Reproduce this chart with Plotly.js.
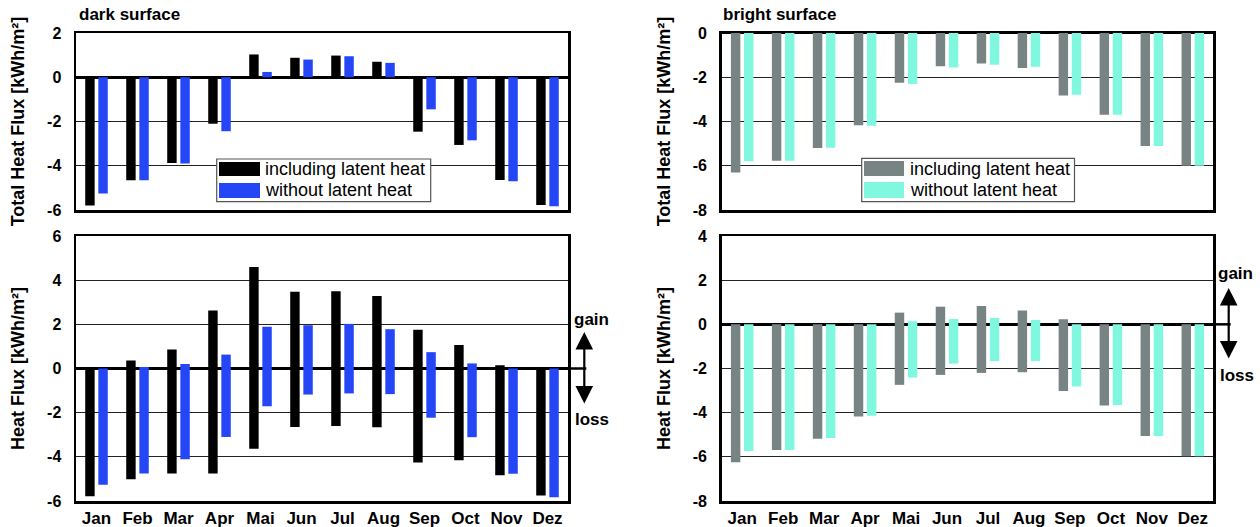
<!DOCTYPE html>
<html>
<head>
<meta charset="utf-8">
<script src="https://cdn.plot.ly/plotly-3.0.1.min.js"></script>
<style>html,body{margin:0;padding:0;background:#fff;}#chart{width:1260px;height:527px;}</style>
</head>
<body>
<div id="chart"></div>
<script>
// ---- data ----
const months = ['Jan','Feb','Mar','Apr','Mai','Jun','Jul','Aug','Sep','Oct','Nov','Dez'];
const seriesNames = ['including latent heat','without latent heat'];
const yTicksTotalDark = [-6,-4,-2,0,2];
const yTicksFluxDark = [-6,-4,-2,0,2,4,6];
const yTicksTotalBright = [-8,-6,-4,-2,0];
const yTicksFluxBright = [-8,-6,-4,-2,0,2,4];

// dark surface, total heat flux
const darkTotalLatent   = [-5.80,-4.65,-3.88,-2.10, 1.03, 0.88, 0.98, 0.70,-2.46,-3.06,-4.64,-5.77];
const darkTotalNoLatent = [-5.25,-4.66,-3.90,-2.44, 0.24, 0.80, 0.95, 0.65,-1.45,-2.85,-4.70,-5.83];
// dark surface, heat flux gain / loss
const darkGainLatent    = [ 0.00, 0.36, 0.86, 2.63, 4.60, 3.47, 3.50, 3.28, 1.75, 1.06, 0.15, 0.00];
const darkLossLatent    = [-5.79,-5.02,-4.76,-4.76,-3.63,-2.65,-2.60,-2.66,-4.26,-4.15,-4.83,-5.75];
const darkGainNoLatent  = [ 0.00, 0.07, 0.20, 0.63, 1.89, 1.96, 2.02, 1.78, 0.74, 0.23, 0.00, 0.00];
const darkLossNoLatent  = [-5.26,-4.76,-4.11,-3.10,-1.71,-1.18,-1.13,-1.16,-2.23,-3.11,-4.77,-5.83];

// bright surface, total heat flux
const brightTotalLatent   = [-6.30,-5.77,-5.20,-4.17,-2.25,-1.50,-1.38,-1.58,-2.82,-3.69,-5.11,-6.00];
const brightTotalNoLatent = [-5.80,-5.77,-5.19,-4.19,-2.31,-1.56,-1.44,-1.52,-2.79,-3.69,-5.11,-6.00];
// bright surface, heat flux gain / loss
const brightGainLatent    = [ 0.00, 0.00, 0.00, 0.00, 0.53, 0.80, 0.83, 0.63, 0.23, 0.00, 0.00, 0.00];
const brightLossLatent    = [-6.25,-5.69,-5.18,-4.17,-2.74,-2.29,-2.20,-2.17,-3.02,-3.68,-5.06,-5.97];
const brightGainNoLatent  = [ 0.00, 0.00, 0.00, 0.00, 0.14, 0.24, 0.29, 0.20, 0.00, 0.00, 0.00, 0.00];
const brightLossNoLatent  = [-5.74,-5.69,-5.15,-4.14,-2.41,-1.78,-1.66,-1.66,-2.81,-3.65,-5.06,-5.97];

// ---- styling ----
const C_BLACK = '#000000', C_BLUE = '#2446f6', C_GRAY = '#788383', C_TEAL = '#80f7df';
const FONT = 'Liberation Sans, Arial, Helvetica, sans-serif';
const W = 1260, H = 527;
const fx = p => p / W;
const fy = p => 1 - p / H;

function span(gain, loss){ return gain.map((g,i)=>g - loss[i]); }

function bar(y, color, name, xa, ya, base){
  const t = {type:'bar', x:months, y:y, name:name, xaxis:xa, yaxis:ya,
    marker:{color:color, line:{width:0}}, showlegend:false, hoverinfo:'x+y'};
  if (base) t.base = base;
  return t;
}

const traces = [
  bar(darkTotalLatent, C_BLACK, seriesNames[0], 'x', 'y'),
  bar(darkTotalNoLatent, C_BLUE, seriesNames[1], 'x', 'y'),
  bar(span(darkGainLatent, darkLossLatent), C_BLACK, seriesNames[0], 'x2', 'y2', darkLossLatent),
  bar(span(darkGainNoLatent, darkLossNoLatent), C_BLUE, seriesNames[1], 'x2', 'y2', darkLossNoLatent),
  bar(brightTotalLatent, C_GRAY, seriesNames[0], 'x3', 'y3'),
  bar(brightTotalNoLatent, C_TEAL, seriesNames[1], 'x3', 'y3'),
  bar(span(brightGainLatent, brightLossLatent), C_GRAY, seriesNames[0], 'x4', 'y4', brightLossLatent),
  bar(span(brightGainNoLatent, brightLossNoLatent), C_TEAL, seriesNames[1], 'x4', 'y4', brightLossNoLatent)
];

const tickFont = {family:FONT, size:16, color:'#000', weight:'bold'};
const xTickFont = {family:FONT, size:17, color:'#000', weight:'bold'};
const titleFont = {family:FONT, size:18, color:'#000', weight:'bold'};

function xAxis(left, right, anchor, showLabels){
  return {domain:[fx(left), fx(right)], anchor:anchor, type:'category',
    showline:true, mirror:true, linecolor:'#000', linewidth:2.5,
    showgrid:false, zeroline:false, ticks:'', showticklabels:showLabels,
    tickfont:xTickFont, fixedrange:true};
}
function yAxis(top, bottom, anchor, range, tickvals, title){
  return {domain:[fy(bottom), fy(top)], anchor:anchor, range:range,
    tickvals:tickvals, ticktext:tickvals.map(String),
    showline:true, mirror:true, linecolor:'#000', linewidth:2.5,
    showgrid:true, gridcolor:'#222', gridwidth:1.3,
    zeroline:true, zerolinecolor:'#000', zerolinewidth:2.5,
    ticks:'', ticklabelstandoff:9, tickfont:tickFont,
    title:{text:title, font:titleFont, standoff:18}, fixedrange:true};
}

const LT = 76, LR = 568, RT = 721.7, RR = 1213.3;
const TT = 33, TB = 210, BT = 236, BB = 501;

const layout = {
  width:W, height:H, margin:{l:0, r:0, t:0, b:0},
  paper_bgcolor:'#fff', plot_bgcolor:'#fff',
  font:{family:FONT, color:'#000'},
  barmode:'group', bargap:0.36, bargroupgap:0.28,
  showlegend:false,
  xaxis: xAxis(LT, LR, 'y', false),
  yaxis: yAxis(TT, TB, 'x', [-6,2], yTicksTotalDark, 'Total Heat Flux [kWh/m²]'),
  xaxis2: xAxis(LT, LR, 'y2', true),
  yaxis2: yAxis(BT, BB, 'x2', [-6,6], yTicksFluxDark, 'Heat Flux [kWh/m²]'),
  xaxis3: xAxis(RT, RR, 'y3', false),
  yaxis3: yAxis(TT, TB, 'x3', [-8,0], yTicksTotalBright, 'Total Heat Flux [kWh/m²]'),
  xaxis4: xAxis(RT, RR, 'y4', true),
  yaxis4: yAxis(BT, BB, 'x4', [-8,4], yTicksFluxBright, 'Heat Flux [kWh/m²]'),
  shapes: [],
  annotations: []
};

// panel titles
const panelFont = {family:FONT, size:17, color:'#000', weight:'bold'};
layout.annotations.push(
  {xref:'paper', yref:'paper', x:fx(77), y:fy(15), xanchor:'left', yanchor:'middle', text:'dark surface', showarrow:false, font:panelFont},
  {xref:'paper', yref:'paper', x:fx(721), y:fy(15), xanchor:'left', yanchor:'middle', text:'bright surface', showarrow:false, font:panelFont}
);

// legend boxes (one per surface)
function legendBox(x0, x1, y0, y1, sx0, sx1, rows, tx, colors){
  layout.shapes.push({type:'rect', xref:'paper', yref:'paper', x0:fx(x0), x1:fx(x1), y0:fy(y1), y1:fy(y0),
    fillcolor:'#fff', line:{color:'#555', width:1.2}, layer:'above'});
  rows.forEach((r, i) => {
    layout.shapes.push({type:'rect', xref:'paper', yref:'paper', x0:fx(sx0), x1:fx(sx1), y0:fy(r[1]), y1:fy(r[0]),
      fillcolor:colors[i], line:{width:0}, layer:'above'});
    layout.annotations.push({xref:'paper', yref:'paper', x:fx(tx), y:fy((r[0]+r[1])/2), xanchor:'left', yanchor:'middle',
      text:seriesNames[i], showarrow:false, font:{family:FONT, size:18, color:'#000'}});
  });
}
legendBox(216.7, 430.7, 159, 201.7, 219, 260, [[162,176],[183,198]], 263, [C_BLACK, C_BLUE]);
legendBox(861.7, 1074.5, 158.3, 201.7, 864, 904, [[161,176],[182,198]], 908, [C_GRAY, C_TEAL]);

// zero line extensions, gain/loss arrows
function gainLoss(plotRight, yref, arrowX, arrowTop, arrowBot, gainY, lossY){
  layout.shapes.push({type:'line', xref:'paper', yref:yref, x0:fx(plotRight), x1:fx(arrowX+2), y0:0, y1:0,
    line:{color:'#000', width:2.5}});
  layout.annotations.push({xref:'paper', yref:'paper', x:fx(arrowX), y:fy(arrowTop), ax:0, ay:arrowBot-arrowTop,
    axref:'pixel', ayref:'pixel', text:'', showarrow:true, arrowside:'end+start', arrowhead:2, arrowsize:1.6,
    arrowwidth:2.2, arrowcolor:'#000', standoff:0, startstandoff:0});
  layout.annotations.push(
    {xref:'paper', yref:'paper', x:fx(arrowX+7), y:fy(gainY), text:'gain', showarrow:false, xanchor:'center', yanchor:'middle', font:panelFont},
    {xref:'paper', yref:'paper', x:fx(arrowX+8), y:fy(lossY), text:'loss', showarrow:false, xanchor:'center', yanchor:'middle', font:panelFont}
  );
}
gainLoss(LR, 'y2', 584.3, 332, 405, 319, 419);
gainLoss(RR, 'y4', 1228.7, 288, 360, 273, 375);

Plotly.newPlot('chart', traces, layout, {staticPlot:true, displayModeBar:false});
</script>
</body>
</html>
